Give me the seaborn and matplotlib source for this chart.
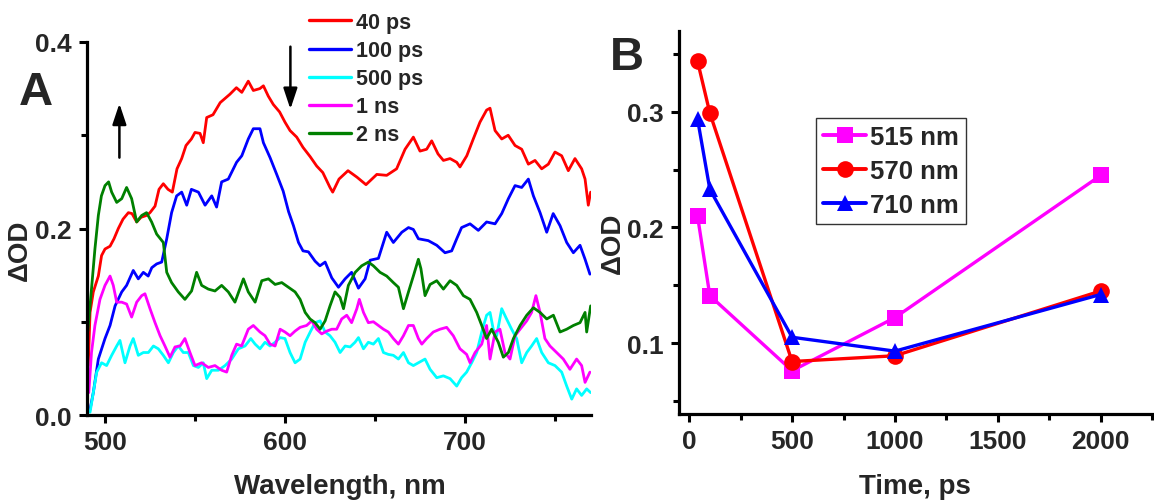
import numpy as np
import pandas as pd
import matplotlib
matplotlib.use("Agg")
import matplotlib.pyplot as plt
from matplotlib.ticker import FixedLocator
import seaborn as sns

# ---------------- Panel A data (transient spectra) ----------------
series_a = ["40 ps", "100 ps", "500 ps", "1 ns", "2 ns"]
colors_a = ["#FF0000", "#0000FF", "#00FFFF", "#FF00FF", "#008000"]

wl_40ps = [490.7, 491.7, 493.5, 496.3, 498.1, 500, 502.8, 505, 507.4, 510,
           513, 515, 517.6, 520, 523.1, 525, 527.8, 530, 532.4, 535,
           537.4, 540, 542.6, 545, 548, 550, 552.8, 554.6, 556.5, 560,
           564, 569.4, 573, 576, 579.6, 582.4, 586, 588, 590.7, 593.5,
           597, 600, 602.8, 606.5, 610, 614, 617.6, 621, 625, 626.5,
           630, 635, 640, 645, 651, 656.5, 662, 666.7, 671.3, 675,
           678.7, 681.5, 685, 688, 691.7, 695.4, 697.2, 701, 704.6, 708.3,
           712, 713.9, 716.7, 720.4, 724, 727.8, 731.5, 735.2, 738.9, 742.6,
           746.3, 750, 753.7, 757.4, 761.1, 764.8, 766.7, 768.5, 769.8]
od_40ps = [0.053, 0.11, 0.132, 0.149, 0.171, 0.178, 0.181, 0.189, 0.2, 0.21,
           0.217, 0.216, 0.207, 0.212, 0.214, 0.217, 0.224, 0.242, 0.248, 0.242,
           0.239, 0.264, 0.275, 0.289, 0.296, 0.303, 0.302, 0.292, 0.319, 0.322,
           0.335, 0.344, 0.351, 0.346, 0.358, 0.348, 0.35, 0.353, 0.342, 0.333,
           0.325, 0.314, 0.305, 0.298, 0.287, 0.277, 0.267, 0.26, 0.244, 0.239,
           0.253, 0.262, 0.255, 0.247, 0.258, 0.257, 0.264, 0.285, 0.298, 0.283,
           0.285, 0.294, 0.28, 0.273, 0.275, 0.271, 0.266, 0.278, 0.296, 0.314,
           0.327, 0.329, 0.305, 0.296, 0.3, 0.289, 0.285, 0.269, 0.273, 0.264,
           0.269, 0.282, 0.278, 0.262, 0.275, 0.264, 0.253, 0.225, 0.239]

wl_100ps = [491.7, 493.5, 496.3, 500, 502.8, 505.6, 509.3, 512, 515.7, 518.5,
            521.3, 524, 526, 528.7, 531.5, 534.3, 537, 539.8, 542.6, 545.4,
            548, 551.9, 555.6, 559.3, 562, 564.8, 568.5, 573.1, 576, 579.6,
            582.4, 586.1, 588, 591.7, 595.4, 599, 602, 604.7, 607.5, 610,
            613, 616.7, 619.4, 622.3, 626, 629.7, 633.4, 637, 640.8, 644.5,
            647.3, 651.9, 656.5, 660.2, 664.9, 668.6, 671.3, 674.1, 679.6, 684.3,
            688.9, 692.6, 695.4, 698.1, 702.8, 707.4, 712, 716.7, 720.4, 724.1,
            727.8, 731.5, 735.2, 738, 741.7, 745.4, 749, 752.8, 756.5, 760.2,
            763.9, 766.7, 769.4]
od_100ps = [0.006, 0.024, 0.06, 0.082, 0.096, 0.117, 0.132, 0.139, 0.155, 0.146,
            0.153, 0.149, 0.158, 0.162, 0.164, 0.189, 0.217, 0.235, 0.239, 0.225,
            0.242, 0.239, 0.225, 0.235, 0.223, 0.25, 0.253, 0.271, 0.278, 0.296,
            0.307, 0.307, 0.292, 0.276, 0.258, 0.24, 0.218, 0.203, 0.185, 0.176,
            0.175, 0.165, 0.16, 0.164, 0.147, 0.137, 0.146, 0.153, 0.136, 0.146,
            0.166, 0.168, 0.196, 0.185, 0.196, 0.201, 0.199, 0.189, 0.187, 0.182,
            0.174, 0.176, 0.189, 0.201, 0.205, 0.198, 0.207, 0.205, 0.216, 0.232,
            0.246, 0.244, 0.253, 0.235, 0.217, 0.196, 0.216, 0.203, 0.185, 0.174,
            0.182, 0.167, 0.151]

wl_500ps = [491.7, 493.5, 495.4, 498.1, 500.9, 503.7, 506.5, 508.3, 511.1, 513.9,
            515.7, 518.5, 521.3, 524.1, 526.9, 529.6, 532.4, 535.2, 538, 540.7,
            543.5, 546.3, 549.1, 551.9, 554.6, 556.5, 559.3, 563, 566.7, 570.4,
            574.1, 577.8, 581, 583.4, 586.1, 588.9, 591.7, 594.5, 597.3, 600,
            602.8, 605.6, 608.4, 611.2, 614, 616.7, 619.5, 622.3, 625, 627.8,
            630.6, 633.4, 636.2, 638.9, 640.8, 643.6, 646.3, 649.1, 651.9, 654.7,
            657.4, 660.2, 663, 665.8, 668.6, 671.3, 674.1, 677.8, 680.6, 684.3,
            688, 691.7, 695.4, 698.1, 700.9, 703.7, 706.5, 709.3, 712, 713.9,
            715.7, 717.6, 720.4, 723.1, 725.9, 728.7, 731.5, 734.3, 737, 739.8,
            742.6, 746.3, 750, 753.7, 756.5, 759.3, 762, 764.8, 767.6, 769.8]
od_500ps = [0.003, 0.024, 0.046, 0.056, 0.053, 0.064, 0.074, 0.08, 0.056, 0.074,
            0.082, 0.064, 0.067, 0.067, 0.074, 0.071, 0.064, 0.056, 0.067, 0.074,
            0.067, 0.067, 0.053, 0.051, 0.056, 0.039, 0.048, 0.048, 0.053, 0.06,
            0.071, 0.074, 0.082, 0.076, 0.071, 0.078, 0.074, 0.078, 0.083, 0.082,
            0.067, 0.056, 0.06, 0.078, 0.089, 0.099, 0.101, 0.089, 0.085, 0.078,
            0.067, 0.074, 0.073, 0.078, 0.083, 0.071, 0.078, 0.076, 0.082, 0.067,
            0.065, 0.064, 0.06, 0.067, 0.056, 0.053, 0.056, 0.06, 0.049, 0.04,
            0.042, 0.039, 0.031, 0.04, 0.046, 0.056, 0.067, 0.089, 0.107, 0.11,
            0.092, 0.085, 0.114, 0.103, 0.092, 0.082, 0.056, 0.067, 0.074, 0.082,
            0.067, 0.056, 0.053, 0.046, 0.031, 0.017, 0.028, 0.021, 0.028, 0.024]

wl_1ns = [491, 492.5, 494.4, 497.2, 500, 502.8, 504.6, 506.5, 509.3, 512,
          514.8, 517.6, 520.4, 522.2, 525, 527.8, 530.6, 533.3, 536.1, 538.9,
          541.7, 544.4, 547.2, 550, 553.7, 557.4, 561.1, 564.8, 567.6, 570.4,
          573.1, 575.9, 579.6, 582.4, 586.1, 588.9, 591.7, 594.5, 597.3, 600,
          602.8, 605.6, 608.4, 612, 614.9, 617.6, 620.4, 623.2, 626, 628.7,
          631.5, 634.3, 637, 639.9, 641.3, 643.6, 646.3, 649.1, 651.9, 654.7,
          657.4, 660.2, 663, 665.8, 668.6, 671.3, 674.1, 676, 678.7, 682.4,
          686.1, 689.8, 693.5, 697.2, 700.9, 702.8, 705.6, 709.3, 712, 713.9,
          716.7, 719.4, 722.2, 725, 727.8, 730.6, 734.3, 737, 739.4, 741.7,
          744.4, 747.2, 750.9, 754.6, 758.3, 762, 764.8, 766.7, 769.4]
od_1ns = [0.024, 0.067, 0.096, 0.124, 0.139, 0.149, 0.139, 0.121, 0.121, 0.119,
          0.105, 0.121, 0.128, 0.13, 0.114, 0.099, 0.085, 0.074, 0.062, 0.073,
          0.074, 0.082, 0.067, 0.053, 0.056, 0.051, 0.053, 0.048, 0.046, 0.064,
          0.076, 0.074, 0.092, 0.096, 0.089, 0.085, 0.076, 0.074, 0.092, 0.089,
          0.085, 0.09, 0.094, 0.096, 0.101, 0.092, 0.087, 0.09, 0.092, 0.092,
          0.103, 0.107, 0.099, 0.114, 0.124, 0.11, 0.099, 0.1, 0.096, 0.092,
          0.089, 0.082, 0.076, 0.085, 0.096, 0.096, 0.082, 0.076, 0.082, 0.089,
          0.092, 0.094, 0.085, 0.071, 0.065, 0.056, 0.067, 0.076, 0.096, 0.06,
          0.089, 0.092, 0.067, 0.06, 0.085, 0.092, 0.101, 0.11, 0.128, 0.11,
          0.082, 0.074, 0.067, 0.06, 0.049, 0.06, 0.053, 0.035, 0.046]

wl_2ns = [490.5, 492, 494.4, 496.3, 498, 500, 502, 503.7, 506.5, 509.3,
          512, 514.8, 517.6, 520.4, 523.1, 525.9, 528.7, 532.4, 534.3, 537,
          540.7, 544.4, 548.1, 550.9, 553.7, 557.4, 561.1, 564.8, 568.5, 572.2,
          576.9, 579.6, 583.4, 587.1, 590.8, 594.5, 598.2, 601.9, 605.6, 608.4,
          611.2, 613.9, 616.7, 619.5, 622.3, 625, 627.8, 630.6, 632.5, 635.2,
          639, 642.6, 646.3, 649.1, 652.8, 656.5, 660.2, 663, 665.8, 668.6,
          671.3, 674.1, 675.5, 677.8, 680.6, 684.3, 688, 691.7, 695.4, 699.1,
          702.8, 706.5, 709.3, 712, 714.8, 718.5, 721.3, 724.1, 726.9, 730.6,
          734.3, 738, 741.7, 745.4, 749.1, 752.8, 756.5, 760.2, 763.9, 766.7,
          767.6, 769.8]
od_2ns = [0.09, 0.124, 0.178, 0.214, 0.235, 0.246, 0.25, 0.239, 0.228, 0.232,
          0.244, 0.232, 0.207, 0.214, 0.217, 0.207, 0.194, 0.185, 0.153, 0.142,
          0.132, 0.124, 0.133, 0.153, 0.139, 0.135, 0.133, 0.139, 0.132, 0.121,
          0.146, 0.132, 0.121, 0.144, 0.146, 0.14, 0.142, 0.137, 0.132, 0.124,
          0.11, 0.103, 0.099, 0.092, 0.101, 0.117, 0.132, 0.126, 0.114, 0.139,
          0.153, 0.16, 0.164, 0.16, 0.153, 0.149, 0.142, 0.137, 0.114, 0.132,
          0.149, 0.167, 0.157, 0.128, 0.14, 0.144, 0.135, 0.144, 0.139, 0.128,
          0.124, 0.11, 0.096, 0.082, 0.092, 0.078, 0.062, 0.067, 0.082, 0.096,
          0.107, 0.115, 0.11, 0.103, 0.107, 0.089, 0.092, 0.096, 0.099, 0.11,
          0.089, 0.117]

# ---------------- Panel B data (kinetics) ----------------
time_ps = [40, 100, 500, 1000, 2000]
series_b = ["515 nm", "570 nm", "710 nm"]
colors_b = ["#FF00FF", "#FF0000", "#0000FF"]
markers_b = ["s", "o", "^"]
od_515 = [0.210, 0.141, 0.076, 0.122, 0.245]
od_570 = [0.344, 0.299, 0.084, 0.089, 0.145]
od_710 = [0.294, 0.233, 0.105, 0.093, 0.142]

# ---------------- build long tables ----------------
spec = {"40 ps": (wl_40ps, od_40ps), "100 ps": (wl_100ps, od_100ps),
        "500 ps": (wl_500ps, od_500ps), "1 ns": (wl_1ns, od_1ns),
        "2 ns": (wl_2ns, od_2ns)}
df_a = pd.concat([pd.DataFrame({"wl": w, "od": o, "delay": k})
                  for k, (w, o) in spec.items()], ignore_index=True)
kin = {"515 nm": od_515, "570 nm": od_570, "710 nm": od_710}
df_b = pd.concat([pd.DataFrame({"t": time_ps, "od": v, "probe": k})
                  for k, v in kin.items()], ignore_index=True)

# ---------------- style ----------------
sns.set_style("ticks")
plt.rcParams["font.family"] = ["Liberation Sans", "DejaVu Sans"]
plt.rcParams["font.weight"] = "bold"
plt.rcParams["axes.labelweight"] = "bold"

fig = plt.figure(figsize=(11.54, 5.02), dpi=100)
axA = fig.add_axes([87 / 1154, 1 - 416 / 502, 504 / 1154, 373 / 502])
axB = fig.add_axes([679 / 1154, 1 - 415 / 502, 473 / 1154, 383 / 502])

TICK_FS = 19
LABEL_FS = 20

def style_axis(ax):
    for s in ["top", "right"]:
        ax.spines[s].set_visible(False)
    for s in ["left", "bottom"]:
        ax.spines[s].set_linewidth(2.3)
        ax.spines[s].set_color("black")
    ax.tick_params(which="major", direction="out", length=6, width=2.2,
                   labelsize=TICK_FS, color="black", pad=5)
    ax.tick_params(which="minor", direction="out", length=4, width=2.2,
                   color="black")
    for lab in ax.get_xticklabels() + ax.get_yticklabels():
        lab.set_fontweight("bold")

# ---------------- Panel A ----------------
sns.lineplot(data=df_a, x="wl", y="od", hue="delay", hue_order=series_a,
             palette=dict(zip(series_a, colors_a)), estimator=None,
             sort=True, linewidth=2.0, ax=axA, legend=True)
axA.set_xlim(490, 770)
axA.set_ylim(0, 0.4)
axA.xaxis.set_major_locator(FixedLocator([500, 600, 700]))
axA.xaxis.set_minor_locator(FixedLocator([550, 650, 750]))
axA.yaxis.set_major_locator(FixedLocator([0.0, 0.2, 0.4]))
axA.yaxis.set_minor_locator(FixedLocator([0.1, 0.3]))
axA.set_yticklabels(["0.0", "0.2", "0.4"])
axA.set_xticklabels(["500", "600", "700"])
style_axis(axA)
axA.set_xlabel("Wavelength, nm", fontsize=LABEL_FS, fontweight="bold")
axA.set_ylabel("ΔOD", fontsize=LABEL_FS, fontweight="bold")
axA.xaxis.set_label_coords(0.502, -0.155)
axA.yaxis.set_label_coords(-0.108, 0.445)

hA, lA = axA.get_legend_handles_labels()
legA = fig.legend(hA, lA, loc="upper left", bbox_to_anchor=(309 / 1154, 1 - 13 / 502),
                  frameon=False, fontsize=15.5, handlelength=1.95, handletextpad=0.25,
                  labelspacing=0.33, borderpad=0, borderaxespad=0)
for t in legA.get_texts():
    t.set_fontweight("bold")
for l in legA.get_lines():
    l.set_linewidth(2.4)
axA.get_legend().remove()

# arrows
axA.annotate("", xy=(508, 0.334), xytext=(508, 0.276),
             arrowprops=dict(arrowstyle="-|>,head_length=0.9,head_width=0.3",
                             color="black", lw=1.8,
                             mutation_scale=14, shrinkA=0, shrinkB=0))
axA.annotate("", xy=(603, 0.328), xytext=(603, 0.395),
             arrowprops=dict(arrowstyle="-|>,head_length=0.9,head_width=0.3",
                             color="black", lw=1.8,
                             mutation_scale=14, shrinkA=0, shrinkB=0))
fig.text(36 / 1154, 1 - 93 / 502, "A", fontsize=34, fontweight="bold",
         ha="center", va="center")

# ---------------- Panel B ----------------
sns.lineplot(data=df_b, x="t", y="od", hue="probe", hue_order=series_b,
             style="probe", style_order=series_b,
             markers=dict(zip(series_b, markers_b)), dashes=False,
             palette=dict(zip(series_b, colors_b)), estimator=None,
             sort=False, linewidth=2.4, markersize=12, markeredgewidth=0,
             ax=axB, legend=True)
axB.set_xlim(-50, 2250)
axB.set_ylim(0.0386, 0.37)
axB.xaxis.set_major_locator(FixedLocator([0, 500, 1000, 1500, 2000]))
axB.xaxis.set_minor_locator(FixedLocator([250, 750, 1250, 1750, 2250]))
axB.yaxis.set_major_locator(FixedLocator([0.1, 0.2, 0.3]))
axB.yaxis.set_minor_locator(FixedLocator([0.05, 0.15, 0.25, 0.35]))
axB.set_xticklabels(["0", "500", "1000", "1500", "2000"])
axB.set_yticklabels(["0.1", "0.2", "0.3"])
style_axis(axB)
axB.set_xlabel("Time, ps", fontsize=LABEL_FS, fontweight="bold")
axB.set_ylabel("ΔOD", fontsize=LABEL_FS, fontweight="bold")
axB.xaxis.set_label_coords(0.499, -0.155)
axB.yaxis.set_label_coords(-0.112, 0.449)

hB, lB = axB.get_legend_handles_labels()
legB = axB.legend(hB, lB, loc="upper left", bbox_to_anchor=(0.29, 0.773),
                  frameon=True, fontsize=18.5, handlelength=1.65, handletextpad=0.15,
                  labelspacing=0.38, borderpad=0.28, borderaxespad=0, fancybox=False)
legB.get_frame().set_edgecolor("black")
legB.get_frame().set_linewidth(1.0)
for t in legB.get_texts():
    t.set_fontweight("bold")
for l in legB.get_lines():
    l.set_linewidth(2.8)
    l.set_markersize(12)
    l.set_markeredgewidth(0)
fig.text(627 / 1154, 1 - 58 / 502, "B", fontsize=34, fontweight="bold",
         ha="center", va="center")

fig.savefig("out.png", dpi=100)
